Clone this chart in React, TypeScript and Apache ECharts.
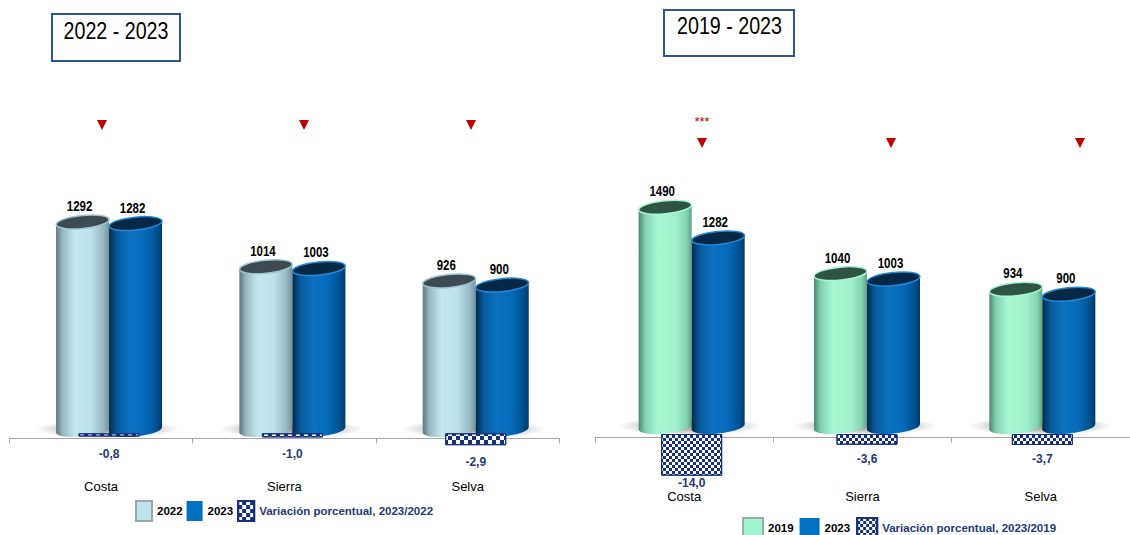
import React, { useEffect, useRef } from 'react';
import * as echarts from 'echarts';

const categories = ['Costa', 'Sierra', 'Selva'];
const values2022 = [1292, 1014, 926];
const values2023 = [1282, 1003, 900];
const values2019 = [1490, 1040, 934];
const variation2023vs2022 = [-0.8, -1.0, -2.9];
const variation2023vs2019 = [-14.0, -3.6, -3.7];
const leftTitle = '2022 - 2023';
const rightTitle = '2019 - 2023';
const varName1 = 'Variación porcentual, 2023/2022';
const varName2 = 'Variación porcentual, 2023/2019';

const FONT = '"Liberation Sans", Arial, sans-serif';
const NAVY = '#1F3A78';
const SQUEEZE = 0.82;

const BODY_2022 = [
  { offset: 0, color: '#5E747B' },
  { offset: 0.12, color: '#97B7C0' },
  { offset: 0.35, color: '#C3E8F1' },
  { offset: 0.65, color: '#BCE2EB' },
  { offset: 0.88, color: '#98BCC6' },
  { offset: 1, color: '#76929B' },
];
const BODY_2023 = [
  { offset: 0, color: '#012B4C' },
  { offset: 0.15, color: '#08589A' },
  { offset: 0.4, color: '#0A72C2' },
  { offset: 0.7, color: '#0468B6' },
  { offset: 0.9, color: '#00508E' },
  { offset: 1, color: '#003B6A' },
];
const BODY_2019 = [
  { offset: 0, color: '#4C8670' },
  { offset: 0.12, color: '#80CFAF' },
  { offset: 0.35, color: '#A8F7D3' },
  { offset: 0.7, color: '#A0F0CC' },
  { offset: 0.9, color: '#84D4B2' },
  { offset: 1, color: '#5F9F86' },
];

const TILT = 0.1;
const HALF = 26.5;
const RY = 6.5;

function cylinder(offset: number, stops: any[], topFill: string, rim: string) {
  return (params: any, api: any) => {
    const cat = api.value(0);
    const v = api.value(1);
    const p = api.coord([cat, v]);
    const b = api.coord([cat, 0]);
    const cx = p[0] + offset;
    const dy = HALF * Math.sin(TILT);
    const grad = new echarts.graphic.LinearGradient(0, 0, 1, 0, stops);
    return {
      type: 'group',
      children: [
        { type: 'ellipse', x: cx, y: b[1], rotation: TILT, shape: { cx: 0, cy: 0, rx: HALF, ry: RY }, style: { fill: grad } },
        {
          type: 'polygon',
          shape: { points: [[cx - HALF, p[1] + dy], [cx + HALF, p[1] - dy], [cx + HALF, b[1] - dy], [cx - HALF, b[1] + dy]] },
          style: { fill: grad },
        },
        { type: 'ellipse', x: cx, y: p[1], rotation: TILT, shape: { cx: 0, cy: 0, rx: HALF, ry: RY }, style: { fill: topFill, stroke: rim, lineWidth: 1.5 } },
        {
          type: 'text', x: cx - 3, y: p[1] - 16, scaleX: SQUEEZE,
          style: { x: 0, y: 0, text: String(v), align: 'center', verticalAlign: 'middle', fontSize: 14, fontWeight: 'bold', fontFamily: FONT, fill: '#000' },
        },
      ],
    };
  };
}

function shadow(params: any, api: any) {
  const b = api.coord([api.value(0), 0]);
  return {
    type: 'ellipse',
    shape: { cx: b[0] - 2, cy: b[1] - 1, rx: 72, ry: 9 },
    style: {
      fill: new echarts.graphic.RadialGradient(0.5, 0.5, 0.5, [
        { offset: 0, color: 'rgba(0,0,0,0.45)' },
        { offset: 0.6, color: 'rgba(0,0,0,0.2)' },
        { offset: 1, color: 'rgba(0,0,0,0)' },
      ]),
    },
  };
}

const fmt = (v: number) => v.toFixed(1).replace('.', ',');

function variationSeries(name: string, data: number[], axis: number, cell: number, dist: (v: number) => number) {
  return {
    type: 'bar', name, xAxisIndex: axis, yAxisIndex: axis, barWidth: 61, z: 5,
    data: data.map((v) => ({
      value: v,
      label: { distance: dist(v) },
    })),
    itemStyle: {
      color: '#FFFFFF', borderColor: '#15307A', borderWidth: 1,
      decal: { symbol: 'rect', symbolSize: 1, color: '#15307A', dashArrayX: [[cell, cell], [0, cell, cell, 0]], dashArrayY: [cell, 0], rotation: 0 },
    },
    label: {
      show: true, position: 'bottom', formatter: (p: any) => fmt(p.value),
      color: NAVY, fontWeight: 'bold', fontSize: 12, fontFamily: FONT,
    },
  };
}

const hiddenCat = (grid: number) => ({ type: 'category', gridIndex: grid, data: categories, show: false, boundaryGap: true });
const labelCat = (grid: number, margin: number) => ({
  type: 'category', gridIndex: grid, data: categories, boundaryGap: true,
  axisLine: { show: true, lineStyle: { color: '#A6A6A6', width: 1 } },
  axisTick: { show: true, length: 5, lineStyle: { color: '#A6A6A6' } },
  axisLabel: { margin, color: '#000', fontSize: 13, fontFamily: FONT },
});
const hiddenVal = (grid: number, min: number, max: number) => ({ type: 'value', gridIndex: grid, min, max, show: false, splitLine: { show: false } });

const legendText = (color: string) => ({ color, fontWeight: 'bold', fontSize: 11.5, fontFamily: FONT });

function triangle(x: number, y: number) {
  return { type: 'polygon', shape: { points: [[x - 5, y - 5], [x + 5, y - 5], [x, y + 5]] }, style: { fill: '#C00000' } };
}

function title(text: string, bx: number, by: number, bw: number, bh: number, tx: number, ty: number) {
  return [
    { type: 'rect', shape: { x: bx, y: by, width: bw, height: bh }, style: { fill: '#FFFFFF', stroke: '#2F5597', lineWidth: 2 } },
    {
      type: 'text', x: tx, y: ty, scaleX: SQUEEZE,
      style: { x: 0, y: 0, text, align: 'center', verticalAlign: 'middle', fontSize: 24, fontFamily: FONT, fill: '#000' },
    },
  ];
}

const option: any = {
  animation: false,
  backgroundColor: '#FFFFFF',
  grid: [
    { left: 17.4, width: 550, top: 172.4, height: 257.6 },
    { left: 17.4, width: 550, top: 433.3, height: 41 },
    { left: 9.4, width: 550, top: 300, height: 138.3 },
    { left: 604, width: 546, top: 191, height: 236 },
    { left: 604, width: 546, top: 434, height: 59.6 },
    { left: 595, width: 546, top: 300, height: 137.5 },
  ],
  xAxis: [hiddenCat(0), hiddenCat(1), labelCat(2, 42), hiddenCat(3), hiddenCat(4), labelCat(5, 52)],
  yAxis: [
    hiddenVal(0, 0, 1600), hiddenVal(1, -10, 0), hiddenVal(2, 0, 1),
    hiddenVal(3, 0, 1600), hiddenVal(4, -20, 0), hiddenVal(5, 0, 1),
  ],
  legend: [
    {
      left: 135, top: 500, padding: 0, itemWidth: 16, itemHeight: 20, itemGap: 4, icon: 'rect', selectedMode: false,
      textStyle: legendText('#000'),
      data: [
        { name: '2022', textStyle: legendText('#000') },
        { name: '2023', textStyle: legendText('#000') },
        { name: varName1, textStyle: legendText(NAVY) },
      ],
    },
    {
      left: 742, top: 517, padding: 0, itemWidth: 20, itemHeight: 20, itemGap: 6, icon: 'rect', selectedMode: false,
      textStyle: legendText('#000'),
      data: [
        { name: '2019', textStyle: legendText('#000') },
        { name: '2023', textStyle: legendText('#000') },
        { name: varName2, textStyle: legendText(NAVY) },
      ],
    },
  ],
  series: [
    { type: 'custom', name: 'shadowL', xAxisIndex: 0, yAxisIndex: 0, z: 1, renderItem: shadow, data: categories.map((c, i) => [i, 0]), silent: true },
    { type: 'custom', name: 'shadowR', xAxisIndex: 3, yAxisIndex: 3, z: 1, renderItem: shadow, data: categories.map((c, i) => [i, 0]), silent: true },
    {
      type: 'custom', name: '2022', xAxisIndex: 0, yAxisIndex: 0, z: 2,
      itemStyle: { color: '#BDE3EE', borderColor: '#9AA9AE', borderWidth: 1 },
      renderItem: cylinder(-HALF, BODY_2022, '#3E4A4F', '#9CC4D2'),
      data: values2022.map((v, i) => [i, v]), encode: { x: 0, y: 1 },
    },
    {
      type: 'custom', name: '2023', xAxisIndex: 0, yAxisIndex: 0, z: 3,
      itemStyle: { color: '#0070C0' },
      renderItem: cylinder(HALF, BODY_2023, '#062844', '#2288DA'),
      data: values2023.map((v, i) => [i, v]), encode: { x: 0, y: 1 },
    },
    {
      type: 'custom', name: '2019', xAxisIndex: 3, yAxisIndex: 3, z: 2,
      itemStyle: { color: '#A3F5D1', borderColor: '#9AB0A6', borderWidth: 1 },
      renderItem: cylinder(-HALF, BODY_2019, '#2F5444', '#A8F5D0'),
      data: values2019.map((v, i) => [i, v]), encode: { x: 0, y: 1 },
    },
    {
      type: 'custom', name: '2023', xAxisIndex: 3, yAxisIndex: 3, z: 3,
      itemStyle: { color: '#0070C0' },
      renderItem: cylinder(HALF, BODY_2023, '#062844', '#2288DA'),
      data: values2023.map((v, i) => [i, v]), encode: { x: 0, y: 1 },
    },
    variationSeries(varName1, variation2023vs2022, 1, 4, () => 11),
    variationSeries(varName2, variation2023vs2019, 4, 3, (v) => (Math.abs(v) > 10 ? 1 : 8)),
  ],
  graphic: [
    ...title(leftTitle, 52, 14, 128, 47, 116, 30.5),
    ...title(rightTitle, 664, 10, 130, 46, 729.5, 25.5),
    triangle(102, 125), triangle(304, 125), triangle(471, 125),
    triangle(702, 143), triangle(891, 143), triangle(1080, 143),
    { type: 'text', x: 702, y: 121, style: { x: 0, y: 0, text: '***', align: 'center', verticalAlign: 'middle', fontSize: 13, fontFamily: FONT, fill: '#C00000' } },
  ],
};

export default function App() {
  const ref = useRef<HTMLDivElement>(null);
  useEffect(() => {
    const chart = echarts.init(ref.current as HTMLDivElement, null, { renderer: 'svg' });
    chart.setOption(option);
    return () => chart.dispose();
  }, []);
  return (
    <div
      ref={ref}
      style={{ position: 'fixed', left: 0, top: 0, width: 1130, height: 535, background: '#FFFFFF' }}
    />
  );
}
